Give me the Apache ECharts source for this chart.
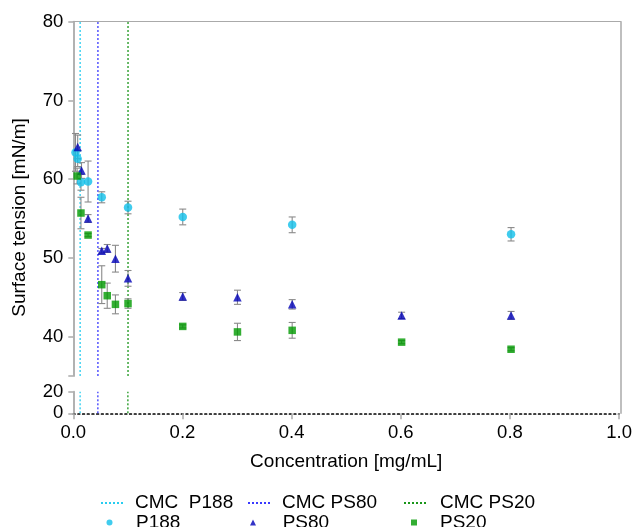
<!DOCTYPE html>
<html>
<head>
<meta charset="utf-8">
<script src="https://cdn.jsdelivr.net/npm/echarts@6/dist/echarts.min.js"></script>
<style>html,body{margin:0;padding:0;background:#fff}#c{width:635px;height:527px}</style>
</head>
<body>
<div id="c"></div>
<script>
// ---- data ----
const xTicks = [0, 0.2, 0.4, 0.6, 0.8, 1.0];
const yUpperTicks = [40, 50, 60, 70, 80];
const yLowerTicks = [0, 20];

const p188X   = [0.004, 0.008, 0.014, 0.027, 0.052, 0.1, 0.2, 0.4, 0.8];
const p188Y   = [63.4, 62.6, 59.6, 59.7, 57.7, 56.4, 55.2, 54.2, 53.0];
const p188Err = [2.4, 1.0, 1.0, 2.6, 0.7, 0.8, 1.0, 1.0, 0.85];

const ps80X   = [0.008, 0.015, 0.027, 0.052, 0.062, 0.077, 0.1, 0.2, 0.3, 0.4, 0.6, 0.8];
const ps80Y   = [64.1, 61.1, 55.0, 50.9, 51.2, 49.9, 47.4, 45.1, 45.0, 44.1, 42.7, 42.7];
const ps80Err = [1.5, 1.0, 0.5, 0.3, 0.5, 1.7, 1.0, 0.5, 0.9, 0.6, 0.4, 0.5];

const ps20X   = [0.007, 0.014, 0.027, 0.052, 0.062, 0.077, 0.1, 0.2, 0.3, 0.4, 0.6, 0.8];
const ps20Y   = [60.4, 55.7, 52.9, 46.6, 45.2, 44.1, 44.2, 41.3, 40.6, 40.8, 39.3, 38.4];
const ps20Err = [1.0, 2.0, 0.2, 2.4, 1.6, 1.2, 0.6, 0.2, 1.1, 1.0, 0.2, 0.2];

const cmcP188 = 0.0125;
const cmcPS80 = 0.045;
const cmcPS20 = 0.1;

// ---- styles ----
const FONT = 'Liberation Sans, Arial, sans-serif';
const AX = '#aaaaaa';
const C_P188 = '#10bfea', C_PS80 = '#0000b8', C_PS20 = '#009a00';
const L_P188 = '#28cdf0', L_PS80 = '#3a3aff', L_PS20 = '#1a961a';

const zip = (xs, ys) => xs.map((x, i) => [x, ys[i]]);
const zip3 = (xs, ys, es) => xs.map((x, i) => [x, ys[i], es[i]]);

function errSeries(data) {
  return {
    type: 'custom', xAxisIndex: 0, yAxisIndex: 0, z: 1, silent: true,
    data: data,
    renderItem: function (params, api) {
      const x = api.value(0), y = api.value(1), e = api.value(2);
      const t = api.coord([x, y + e]), b = api.coord([x, y - e]);
      const h = 3.5, st = { stroke: '#8a8a8a', lineWidth: 1.1 };
      return { type: 'group', children: [
        { type: 'line', shape: { x1: t[0], y1: t[1], x2: b[0], y2: b[1] }, style: st },
        { type: 'line', shape: { x1: t[0] - h, y1: t[1], x2: t[0] + h, y2: t[1] }, style: st },
        { type: 'line', shape: { x1: b[0] - h, y1: b[1], x2: b[0] + h, y2: b[1] }, style: st }
      ]};
    }
  };
}
function cmcSeries(name, x, color) {
  const ls = { color: color, width: 1.3, type: [2, 2] };
  return [
    { name: name, type: 'line', xAxisIndex: 0, yAxisIndex: 0, symbol: 'none', data: [[x, 35], [x, 80]], lineStyle: ls, itemStyle: { color: color }, z: 0, silent: true },
    { name: name, type: 'line', xAxisIndex: 1, yAxisIndex: 1, symbol: 'none', data: [[x, 0], [x, 20]], lineStyle: ls, itemStyle: { color: color }, z: 0, silent: true }
  ];
}
function lineLegend(name, left, top, padL) {
  return {
    data: [{ name: name, itemStyle: { opacity: 0 } }],
    left: left, top: top, padding: 0, itemWidth: 22, itemHeight: 6, itemGap: 0,
    selectedMode: false,
    textStyle: { fontFamily: FONT, fontSize: 19, color: '#000', padding: [0, 0, 0, padL] }
  };
}
function markLegend(name, left, top, padL, size) {
  return {
    data: [name], left: left, top: top, padding: 0, itemWidth: size, itemHeight: size, itemGap: 0,
    selectedMode: false,
    textStyle: { fontFamily: FONT, fontSize: 19, color: '#000', padding: [0, 0, 0, padL] }
  };
}

const L = 73.3, R = 14.5;
const option = {
  animation: false,
  backgroundColor: '#fff',
  grid: [
    { left: L, right: R, top: 21.7, bottom: 151 },
    { left: L, right: R, top: 391.7, bottom: 113.7 },
    { left: L, right: R, top: 21.7, bottom: 113.7 }
  ],
  xAxis: [
    { gridIndex: 0, type: 'value', min: 0, max: 1, show: false },
    { gridIndex: 1, type: 'value', min: 0, max: 1, interval: 0.2,
      name: 'Concentration [mg/mL]', nameLocation: 'middle', nameGap: 39,
      nameTextStyle: { fontFamily: FONT, fontSize: 19, color: '#000' },
      axisLine: { onZero: false, lineStyle: { color: '#000', width: 1.7, type: [1.7, 3.0] } },
      axisTick: { length: 6, lineStyle: { color: AX, width: 1.5 } },
      axisLabel: { fontFamily: FONT, fontSize: 18.5, color: '#000', margin: 10, formatter: v => v.toFixed(1) },
      splitLine: { show: false } },
    { gridIndex: 2, type: 'value', min: 0, max: 1, position: 'top',
      axisLine: { show: true, onZero: false, lineStyle: { color: AX, width: 1.2 } },
      axisTick: { show: false }, axisLabel: { show: false }, splitLine: { show: false } }
  ],
  yAxis: [
    { gridIndex: 0, type: 'value', min: 35, max: 80,
      axisLine: { show: true, onZero: false, lineStyle: { color: AX, width: 1.8 } },
      axisTick: { show: true, length: 5, lineStyle: { color: AX, width: 1.5 }, customValues: [35].concat(yUpperTicks) },
      axisLabel: { fontFamily: FONT, fontSize: 18.5, color: '#000', margin: 10, customValues: yUpperTicks },
      splitLine: { show: false } },
    { gridIndex: 1, type: 'value', min: 0, max: 20, interval: 20,
      axisLine: { show: true, onZero: false, lineStyle: { color: AX, width: 1.8 } },
      axisTick: { show: true, length: 5, lineStyle: { color: AX, width: 1.5 } },
      axisLabel: { fontFamily: FONT, fontSize: 18.5, color: '#000', margin: 10, customValues: yLowerTicks },
      splitLine: { show: false } },
    { gridIndex: 2, type: 'value', min: 0, max: 1, position: 'right',
      axisLine: { show: true, onZero: false, lineStyle: { color: AX, width: 1.5 } },
      axisTick: { show: false }, axisLabel: { show: false }, splitLine: { show: false } },
    { gridIndex: 2, type: 'value', min: 0, max: 1, position: 'left',
      name: 'Surface tension [mN/m]', nameLocation: 'middle', nameGap: 44,
      nameTextStyle: { fontFamily: FONT, fontSize: 19, color: '#000' },
      axisLine: { show: false }, axisTick: { show: false }, axisLabel: { show: false }, splitLine: { show: false } }
  ],
  legend: [
    lineLegend('CMC  P188', 100, 493.5, 7),
    lineLegend('CMC PS80', 247, 493.5, 7),
    lineLegend('CMC PS20', 403, 493.5, 9),
    markLegend('P188', 106.5, 513, 18.5, 6),
    markLegend('PS80', 250, 513, 21.7, 6),
    markLegend('PS20', 411, 513, 18, 6)
  ],
  series: [].concat(
    cmcSeries('CMC  P188', cmcP188, L_P188),
    cmcSeries('CMC PS80', cmcPS80, L_PS80),
    cmcSeries('CMC PS20', cmcPS20, L_PS20),
    [
      errSeries(zip3(p188X, p188Y, p188Err)),
      errSeries(zip3(ps80X, ps80Y, ps80Err)),
      errSeries(zip3(ps20X, ps20Y, ps20Err)),
      { name: 'P188', type: 'scatter', xAxisIndex: 0, yAxisIndex: 0, symbol: 'circle', symbolSize: 8.5, z: 3,
        itemStyle: { color: C_P188 }, data: zip(p188X, p188Y) },
      { name: 'PS80', type: 'scatter', xAxisIndex: 0, yAxisIndex: 0, symbol: 'triangle', symbolSize: 8.5, z: 3,
        itemStyle: { color: C_PS80 }, data: zip(ps80X, ps80Y) },
      { name: 'PS20', type: 'scatter', xAxisIndex: 0, yAxisIndex: 0, symbol: 'rect', symbolSize: 7.5, z: 3,
        itemStyle: { color: C_PS20 }, data: zip(ps20X, ps20Y) }
    ]
  )
};
const chart = echarts.init(document.getElementById('c'), null, { renderer: 'canvas' });
chart.setOption(option);
</script>
</body>
</html>
